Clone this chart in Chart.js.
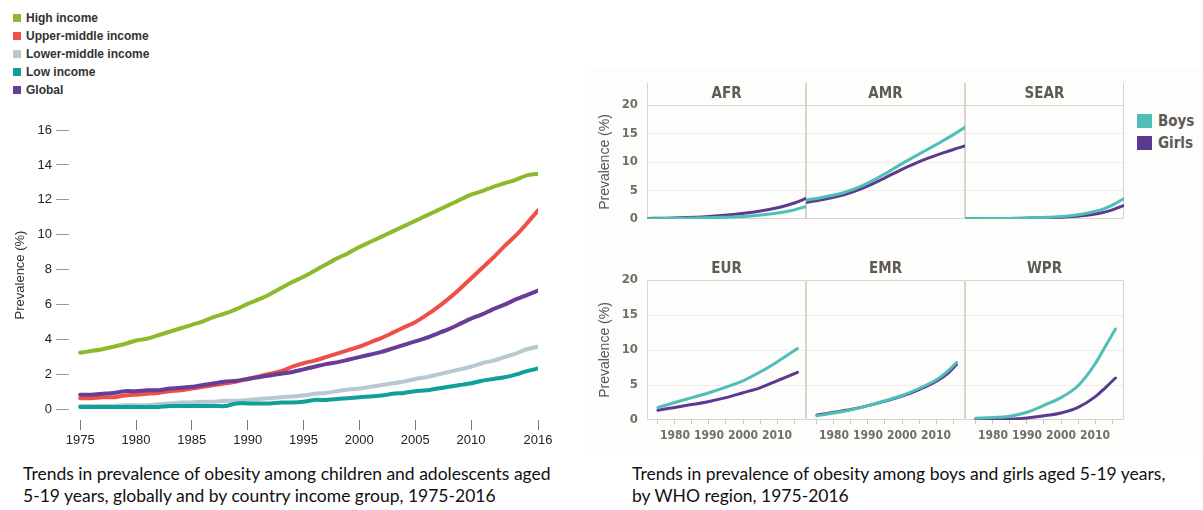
<!DOCTYPE html>
<html><head><meta charset="utf-8">
<script src="https://cdn.jsdelivr.net/npm/chart.js@4.4.1/dist/chart.umd.min.js"></script>
<style>
html,body{margin:0;padding:0;background:#fff;}
body{width:1203px;height:510px;position:relative;overflow:hidden;font-family:"Liberation Sans",Arial,sans-serif;}
canvas{position:absolute;}
#tint{position:absolute;left:585px;top:68px;width:618px;height:388px;background:#fdfdfb;}
.leg{position:absolute;left:13px;height:14px;display:flex;align-items:center;font:bold 12px "Liberation Sans",Arial,sans-serif;color:#333;white-space:nowrap;}
.leg i{display:inline-block;width:8px;height:8px;margin-right:5px;}
.cap{position:absolute;font:17.5px Lato,"Open Sans",sans-serif;color:#111;line-height:22px;white-space:nowrap;}
.rleg{position:absolute;left:1137px;height:15px;display:flex;align-items:center;font:bold 15px "DejaVu Sans Condensed","Liberation Sans Narrow",Arial,sans-serif;color:#5f5a55;white-space:nowrap;}
.rleg i{display:inline-block;width:15px;height:14px;margin-right:6px;}
</style>
</head><body>
<div id="tint"></div>
<div id="legend"></div>
<canvas id="left" width="570" height="345" style="left:0;top:110px"></canvas>
<canvas id="p0" width="229" height="184" style="left:587px;top:75px"></canvas>
<canvas id="p1" width="229" height="184" style="left:746px;top:75px"></canvas>
<canvas id="p2" width="229" height="184" style="left:905px;top:75px"></canvas>
<canvas id="p3" width="229" height="200" style="left:587px;top:250px"></canvas>
<canvas id="p4" width="229" height="200" style="left:746px;top:250px"></canvas>
<canvas id="p5" width="229" height="200" style="left:905px;top:250px"></canvas>
<div class="rleg" style="top:113px"><i style="background:#4dbfb7"></i>Boys</div>
<div class="rleg" style="top:135px"><i style="background:#5c3a8f"></i>Girls</div>
<div class="cap" style="left:23px;top:463px">Trends in prevalence of obesity among children and adolescents aged<br>5-19 years, globally and by country income group, 1975-2016</div>
<div class="cap" style="left:632px;top:463px">Trends in prevalence of obesity among boys and girls aged 5-19 years,<br>by WHO region, 1975-2016</div>
<script>
// ---------- Left chart data ----------
const years = [1975,1976,1977,1978,1979,1980,1981,1982,1983,1984,1985,1986,1987,1988,1989,1990,1991,1992,1993,1994,1995,1996,1997,1998,1999,2000,2001,2002,2003,2004,2005,2006,2007,2008,2009,2010,2011,2012,2013,2014,2015,2016];
const xTickYears = [1975,1980,1985,1990,1995,2000,2005,2010,2016];
const yTickValues = [0,2,4,6,8,10,12,14,16];
const highIncome = [3.25,3.35,3.45,3.6,3.75,3.95,4.05,4.25,4.45,4.65,4.85,5.05,5.3,5.5,5.75,6.05,6.3,6.6,6.95,7.3,7.6,7.95,8.3,8.65,8.95,9.3,9.6,9.9,10.2,10.5,10.8,11.1,11.4,11.7,12.0,12.3,12.5,12.75,12.95,13.15,13.4,13.5];
const upperMiddle = [0.65,0.65,0.7,0.7,0.8,0.85,0.9,0.95,1.05,1.1,1.2,1.3,1.4,1.5,1.6,1.75,1.9,2.05,2.2,2.45,2.65,2.8,3.0,3.2,3.4,3.6,3.85,4.1,4.4,4.7,5.0,5.4,5.85,6.35,6.9,7.5,8.1,8.7,9.35,9.95,10.65,11.4];
const lowerMiddle = [0.2,0.2,0.2,0.2,0.25,0.25,0.25,0.3,0.35,0.4,0.4,0.45,0.45,0.5,0.5,0.55,0.6,0.65,0.7,0.75,0.8,0.9,0.95,1.05,1.15,1.2,1.3,1.4,1.5,1.6,1.75,1.85,2.0,2.15,2.3,2.45,2.65,2.8,3.0,3.2,3.45,3.6];
const lowIncome = [0.15,0.15,0.15,0.15,0.15,0.15,0.15,0.15,0.2,0.2,0.2,0.2,0.2,0.2,0.35,0.35,0.35,0.35,0.4,0.4,0.45,0.55,0.55,0.6,0.65,0.7,0.75,0.8,0.9,0.95,1.05,1.1,1.2,1.3,1.4,1.5,1.65,1.75,1.85,2.0,2.2,2.35];
const globalAll = [0.85,0.85,0.9,0.95,1.05,1.05,1.1,1.1,1.2,1.25,1.3,1.4,1.5,1.6,1.65,1.75,1.85,1.95,2.05,2.15,2.3,2.45,2.6,2.7,2.85,3.0,3.15,3.3,3.5,3.7,3.9,4.1,4.35,4.6,4.9,5.2,5.45,5.75,6.0,6.3,6.55,6.8];
const incomeLabels = ['High income','Upper-middle income','Lower-middle income','Low income','Global'];
const incomeColors = ['#8dba2d','#ee4f47','#b8c8d0','#10a09a','#673d98'];

// ---------- Right panels data ----------
const regions = ['AFR','AMR','SEAR','EUR','EMR','WPR'];
const yearsR = [1975,1980,1985,1990,1995,2000,2005,2010,2013,2016];
const afrBoys  = [0.05,0.08,0.12,0.2,0.3,0.45,0.75,1.2,1.6,2.2];
const afrGirls = [0.1,0.15,0.25,0.4,0.65,1.0,1.5,2.2,2.8,3.6];
const amrBoys  = [3.3,3.9,4.7,6.0,7.8,9.8,11.7,13.6,14.8,16.1];
const amrGirls = [2.9,3.5,4.3,5.5,7.1,8.8,10.3,11.5,12.2,12.8];
const searBoys = [0.05,0.07,0.1,0.15,0.25,0.45,0.85,1.6,2.45,3.6];
const searGirls= [0.05,0.05,0.08,0.12,0.2,0.3,0.55,1.05,1.6,2.4];
const eurBoys  = [1.8,2.5,3.2,3.9,4.7,5.6,6.85,8.3,9.25,10.2];
const eurGirls = [1.4,1.8,2.2,2.65,3.2,3.9,4.6,5.6,6.2,6.8];
const emrBoys  = [0.6,1.0,1.45,2.05,2.75,3.5,4.5,5.7,6.8,8.2];
const emrGirls = [0.7,1.1,1.5,2.05,2.7,3.4,4.35,5.5,6.5,7.9];
const wprBoys  = [0.25,0.35,0.55,1.1,2.1,3.2,4.9,8.0,10.5,13.0];
const wprGirls = [0.2,0.15,0.15,0.3,0.6,1.0,1.8,3.3,4.6,6.0];
const rTickValues = [0,5,10,15,20];
const rXTicks = [1975,1980,1985,1990,1995,2000,2005,2010,2015];
const boysColor = '#4dbfb7', girlsColor = '#5c3a8f';

Chart.defaults.animation = false;
Chart.defaults.font.family = "'Liberation Sans', Arial, sans-serif";

// HTML legend for left chart
const legEl = document.getElementById('legend');
incomeLabels.forEach((lab, i) => {
  const d = document.createElement('div');
  d.className = 'leg';
  d.style.top = (11 + i * 18) + 'px';
  d.innerHTML = '<i style="background:' + incomeColors[i] + '"></i>' + lab;
  legEl.appendChild(d);
});

const pts = (xs, ys) => xs.map((x, i) => ({x: x, y: ys[i]}));
const incomeSeries = [highIncome, upperMiddle, lowerMiddle, lowIncome, globalAll];
const drawOrder = [3, 4, 1, 2, 0]; // top-most first
new Chart(document.getElementById('left'), {
  type: 'line',
  data: {
    datasets: drawOrder.map(i => ({
      label: incomeLabels[i],
      data: pts(years, incomeSeries[i]),
      borderColor: incomeColors[i],
      backgroundColor: incomeColors[i],
      borderWidth: 4,
      pointRadius: 0,
      tension: 0.2,
      borderCapStyle: 'round',
      borderJoinStyle: 'round'
    }))
  },
  options: {
    responsive: false,
    animation: false,
    layout: {padding: {left: 0, top: 20, right: 32, bottom: 0}},
    plugins: {legend: {display: false}, tooltip: {enabled: false}},
    scales: {
      x: {
        type: 'linear', min: 1974, max: 2016,
        afterBuildTicks: s => { s.ticks = xTickYears.map(v => ({value: v})); },
        afterFit: s => { s.height = 35; },
        border: {display: false},
        grid: {drawOnChartArea: false, drawTicks: true, tickLength: 10, tickColor: '#777', lineWidth: 1},
        ticks: {color: '#222', font: {size: 13}, padding: 3, autoSkip: false, maxRotation: 0, callback: v => String(v)}
      },
      y: {
        min: -0.6, max: 16,
        afterBuildTicks: s => { s.ticks = yTickValues.map(v => ({value: v})); },
        afterFit: s => { s.width = 69; },
        border: {display: false},
        grid: {drawOnChartArea: false, drawTicks: true, tickLength: 13, tickColor: '#999', lineWidth: 1},
        ticks: {color: '#222', font: {size: 13}, padding: 4, callback: v => String(v)},
        title: {display: true, text: 'Prevalence (%)', color: '#333', font: {size: 13}, padding: {top: 13, bottom: 0}}
      }
    }
  }
});

// ---------- Right panels ----------
const COND = "'DejaVu Sans Condensed','Liberation Sans Narrow','Arial Narrow',sans-serif";
const framePlugin = {
  id: 'frame',
  beforeDatasetsDraw(chart, args, opts) {
    const {ctx, chartArea: a} = chart;
    ctx.save();
    ctx.strokeStyle = '#d9d3cd';
    ctx.lineWidth = 1;
    ctx.beginPath();
    if (opts.row === 0) {
      ctx.moveTo(a.left + 0.5, a.top - 22); ctx.lineTo(a.left + 0.5, a.bottom);
      ctx.moveTo(a.right - 0.5, a.top - 22); ctx.lineTo(a.right - 0.5, a.bottom);
      ctx.moveTo(a.left, a.top + 0.5); ctx.lineTo(a.right, a.top + 0.5);
      ctx.moveTo(a.left, a.bottom - 0.5); ctx.lineTo(a.right, a.bottom - 0.5);
    } else {
      ctx.rect(a.left + 0.5, a.top + 0.5, a.right - a.left - 1, a.bottom - a.top - 1);
    }
    ctx.stroke();
    ctx.restore();
  }
};
const panelData = [[afrBoys, afrGirls],[amrBoys, amrGirls],[searBoys, searGirls],[eurBoys, eurGirls],[emrBoys, emrGirls],[wprBoys, wprGirls]];
regions.forEach((reg, k) => {
  const row = Math.floor(k / 3), col = k % 3;
  new Chart(document.getElementById('p' + k), {
    type: 'line',
    data: {
      datasets: [
        {label: 'Boys', data: pts(yearsR, panelData[k][0]), borderColor: boysColor, backgroundColor: boysColor},
        {label: 'Girls', data: pts(yearsR, panelData[k][1]), borderColor: girlsColor, backgroundColor: girlsColor}
      ]
    },
    plugins: [framePlugin],
    options: {
      responsive: false,
      animation: false,
      elements: {point: {radius: 0}, line: {borderWidth: 3, cubicInterpolationMode: 'monotone', borderCapStyle: 'round'}},
      layout: {padding: {left: col === 0 ? 0 : 60, right: 10, top: 0, bottom: row === 0 ? 10 : 0}},
      plugins: {
        legend: {display: false}, tooltip: {enabled: false},
        frame: {row: row},
        title: {display: true, text: reg, fullSize: false, color: '#5f5a55', font: {family: COND, weight: 'bold', size: 15}, padding: {top: 10, bottom: 2}}
      },
      scales: {
        x: {
          type: 'linear',
          min: row === 0 ? 1975 : 1971.8,
          max: row === 0 ? 2016 : 2018.5,
          display: row === 1,
          afterBuildTicks: s => { s.ticks = rXTicks.map(v => ({value: v})); },
          afterFit: s => { s.height = 30; },
          border: {display: false},
          grid: {drawOnChartArea: false, drawTicks: true, tickLength: 4, tickColor: '#cfc8c2'},
          ticks: {color: '#736d68', font: {family: COND, weight: 'bold', size: 12}, padding: 5, autoSkip: false, maxRotation: 0,
                  callback: v => (v % 10 === 0 ? String(v) : '')}
        },
        y: {
          min: 0, max: 20,
          afterBuildTicks: s => { s.ticks = rTickValues.map(v => ({value: v})); },
          afterFit: s => { s.width = col === 0 ? 60 : 0; },
          border: {display: false},
          grid: {drawTicks: false, color: c => (c.tick && c.tick.value > 0 && c.tick.value < 20) ? '#efebe7' : 'rgba(0,0,0,0)'},
          ticks: {display: col === 0, color: '#736d68', font: {family: COND, weight: 'bold', size: 13}, padding: 9, callback: v => String(v)},
          title: {display: col === 0, text: 'Prevalence (%)', color: '#555', font: {size: 14}, padding: {top: 10, bottom: 0}}
        }
      }
    }
  });
});
</script>
</body></html>
